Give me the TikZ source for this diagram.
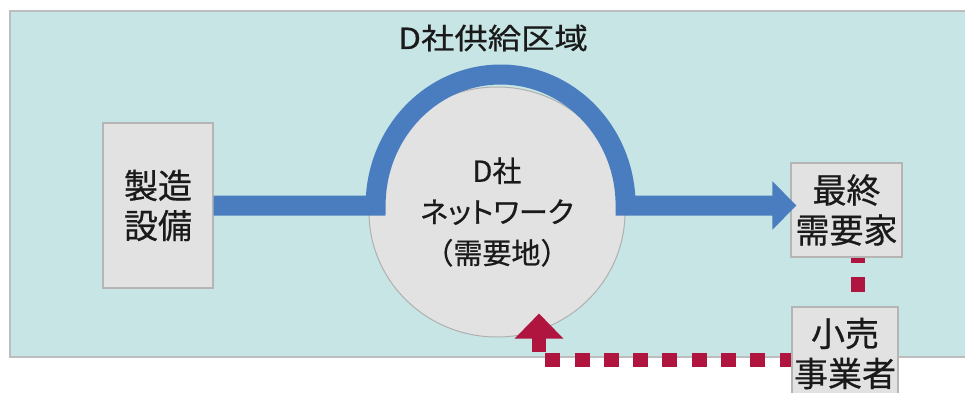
\documentclass[tikz,border=0pt]{standalone}
\usepackage{fontspec}
\setmainfont{Noto Sans CJK JP}[FakeBold=0.6]
\newfontfamily\jpp{Noto Sans CJK JP}[RawFeature=+palt, FakeBold=0.6]
\usetikzlibrary{arrows.meta,calc,shapes.geometric}
\definecolor{zonefill}{HTML}{C7E5E5}
\definecolor{zoneline}{HTML}{BDBDBD}
\definecolor{boxfill}{HTML}{E3E2E2}
\definecolor{boxline}{HTML}{B5B5B5}
\definecolor{circfill}{HTML}{E2E2E2}
\definecolor{circline}{HTML}{B0B0B0}
\definecolor{flowblue}{HTML}{4A7DC0}
\definecolor{flowred}{HTML}{B01540}
\definecolor{txt}{HTML}{1A1A1A}
\pgfdeclarelayer{back}
\pgfdeclarelayer{mid}
\pgfsetlayers{back,mid,main}
\begin{document}
\begin{tikzpicture}[x=1pt,y=1pt,
  zone/.style={draw=zoneline, line width=2pt, fill=zonefill, inner sep=0pt},
  box/.style={draw=boxline, line width=1.2pt, fill=boxfill, inner sep=0pt, align=center,
    font=\fontsize{34}{40}\selectfont, text=txt},
  netnode/.style={ellipse, draw=circline, line width=1pt, fill=circfill, inner sep=0pt,
    align=center, font=\fontsize{29}{41}\selectfont, text=txt},
  titletext/.style={font=\fontsize{29}{34}\selectfont, text=txt, inner sep=0pt},
  blueflow/.style={draw=flowblue, line width=20pt, line join=miter,
    -{Triangle[length=24pt,width=47pt]}},
  reddash/.style={draw=flowred, line width=14.5pt, dash pattern=on 15pt off 14.3pt,
    {Triangle[length=25pt,width=47pt]}-}
]
\useasboundingbox (0,0) rectangle (965,392);
\begin{pgfonlayer}{back}
\node[zone, minimum width=975pt, minimum height=346pt] (area) at (497.5,208) {};
\end{pgfonlayer}
\node[titletext] (title) at (493,354) {\scalebox{1.15}[1]{D社供給区域}};
\begin{pgfonlayer}{mid}
\node[netnode, minimum width=256pt, minimum height=250pt] (net) at (497,180)
  {D社\\{\jpp ネットワーク}\\（需要地）};
\end{pgfonlayer}
\node[box, minimum width=110pt, minimum height=165pt] (seizo) at (158,186.5) {製造\\設備};
\node[box, minimum width=111pt, minimum height=94pt] (saishu) at (846.5,182) {最終\\需要家};
\node[box, minimum width=106pt, minimum height=93pt] (kouri) at (845,38.5) {小売\\事業者};
\draw[blueflow] (seizo.east) -- ++(162,0)
  arc[start angle=180, end angle=0, x radius=125, y radius=131]
  -- ($(saishu.west |- seizo.east)+(6,0)$);
\coordinate (rtip) at ($(net.south)+(42,24)$);
\coordinate (rend) at ($(saishu.south)+(11.5,0)$);
\begin{pgfonlayer}{mid}
\draw[reddash] (rtip) |- ($(kouri.west)+(0,-6.5)$) -| (rend);
\end{pgfonlayer}
\end{tikzpicture}
\end{document}
